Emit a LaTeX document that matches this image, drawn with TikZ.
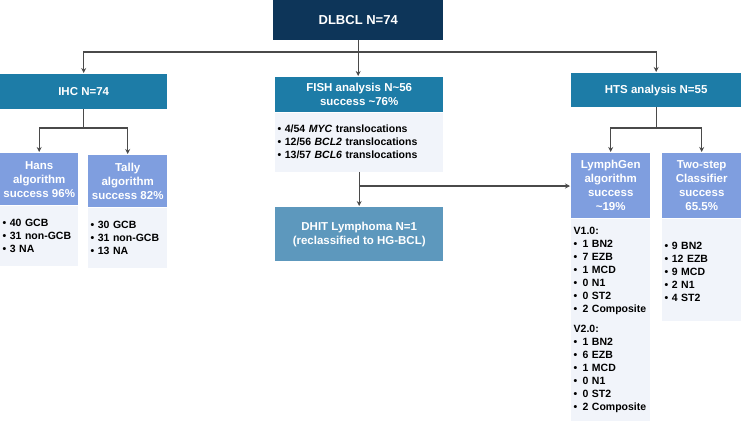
\documentclass[tikz,border=0pt]{standalone}
\usepackage{fontspec}
\setmainfont{Liberation Sans}
\usetikzlibrary{arrows.meta}
\definecolor{navy}{HTML}{0D3559}
\definecolor{hdrblue}{HTML}{1D7CA7}
\definecolor{algblue}{HTML}{7F9EDF}
\definecolor{listbg}{HTML}{F1F4FA}
\definecolor{resblue}{HTML}{5D98BD}
\definecolor{linegray}{HTML}{4A4A4A}
\begin{document}
\begin{tikzpicture}[x=1pt,y=-1pt,
        box/.style={anchor=north west,inner sep=0pt,align=center,text=white,font=\fontsize{11.5}{14}\selectfont\bfseries},
        mainbox/.style={box,fill=navy,font=\fontsize{13}{14}\selectfont\bfseries},
        headbox/.style={box,fill=hdrblue},
        algbox/.style={box,fill=algblue},
        resbox/.style={box,fill=resblue},
        listbox/.style={anchor=north west,fill=listbg,text=black,align=left,inner xsep=2.5pt,inner ysep=0pt,
            font=\fontsize{10.5}{13}\selectfont\bfseries},
        conn/.style={draw=linegray,line width=1.1pt},
        arr/.style={-{Stealth[length=5pt,width=5pt]},shorten >=1pt}]
    \useasboundingbox (0,0) rectangle (741,424);

    \node[mainbox,minimum width=170pt,minimum height=40pt] (dlbcl) at (273,0) {DLBCL N=74};

    \node[headbox,minimum width=167pt,minimum height=35pt] (ihc) at (0,74) {IHC N=74};
    \node[headbox,minimum width=168pt,minimum height=35pt] (fish) at (275,77) {FISH analysis N\textasciitilde56\\success \textasciitilde76\%};
    \node[headbox,minimum width=170pt,minimum height=34pt] (hts) at (571,73) {HTS analysis N=55};

    \node[listbox,text width=163pt,minimum height=59pt] (fishlist) at (fish.south west)
        {\textbullet\ 4/54 \textit{MYC} translocations\\
         \textbullet\ 12/56 \textit{BCL2} translocations\\
         \textbullet\ 13/57 \textit{BCL6} translocations};

    \node[algbox,minimum width=78pt,minimum height=52pt] (hans) at (0,153) {Hans\\algorithm\\success 96\%};
    \node[listbox,text width=73pt,minimum height=60pt] (hanslist) at (hans.south west)
        {\textbullet\ 40 GCB\\\textbullet\ 31 non-GCB\\\textbullet\ 3 NA};
    \node[algbox,minimum width=79pt,minimum height=52pt] (tally) at (88,155) {Tally\\algorithm\\success 82\%};
    \node[listbox,text width=74pt,minimum height=60pt] (tallylist) at (tally.south west)
        {\textbullet\ 30 GCB\\\textbullet\ 31 non-GCB\\\textbullet\ 13 NA};

    \node[resbox,minimum width=168pt,minimum height=54pt] (dhit) at (275,207) {DHIT Lymphoma N=1\\(reclassified to HG-BCL)};

    \node[algbox,minimum width=79pt,minimum height=65pt] (lymph) at (571,153) {LymphGen\\algorithm\\success\\\textasciitilde19\%};
    \node[listbox,text width=74pt,minimum height=202pt] (lymphlist) at (lymph.south west)
        {V1.0:\\
         \textbullet\ \,1 BN2\\\textbullet\ \,7 EZB\\\textbullet\ \,1 MCD\\\textbullet\ \,0 N1\\\textbullet\ \,0 ST2\\\textbullet\ \,\mbox{2 Composite}\\[7pt]
         V2.0:\\
         \textbullet\ \,1 BN2\\\textbullet\ \,6 EZB\\\textbullet\ \,1 MCD\\\textbullet\ \,0 N1\\\textbullet\ \,0 ST2\\\textbullet\ \,\mbox{2 Composite}};
    \node[algbox,minimum width=79pt,minimum height=65pt] (twostep) at (662,153) {Two-step\\Classifier\\success\\65.5\%};
    \node[listbox,text width=74pt,minimum height=102pt] (twosteplist) at (twostep.south west)
        {\mbox{}\\[-2pt]
         \textbullet\ 9 BN2\\\textbullet\ 12 EZB\\\textbullet\ 9 MCD\\\textbullet\ 2 N1\\\textbullet\ 4 ST2};

    \coordinate (fork) at (dlbcl.south |- 0,52);
    \draw[conn] (dlbcl.south) -- (fork);
    \draw[conn,arr] (fork) -| (ihc.north);
    \draw[conn,arr] (fork) -- (fork |- fish.north);
    \draw[conn,arr] (fork) -| (hts.north);

    \coordinate (ihcfork) at (ihc.south |- 0,128);
    \draw[conn] (ihc.south) -- (ihcfork);
    \draw[conn,arr] (ihcfork) -| (hans.north);
    \draw[conn,arr] (ihcfork) -| (tally.north);

    \coordinate (htsfork) at (hts.south |- 0,128);
    \draw[conn] (hts.south) -- (htsfork);
    \draw[conn,arr] (htsfork) -| (lymph.north);
    \draw[conn,arr] (htsfork) -| (twostep.north);

    \coordinate (fishfork) at (fishlist.south |- 0,186);
    \draw[conn,arr] (fishlist.south) -- (fishlist.south |- dhit.north);
    \draw[conn,arr] (fishfork) -- (fishfork -| lymph.west);
\end{tikzpicture}
\end{document}
